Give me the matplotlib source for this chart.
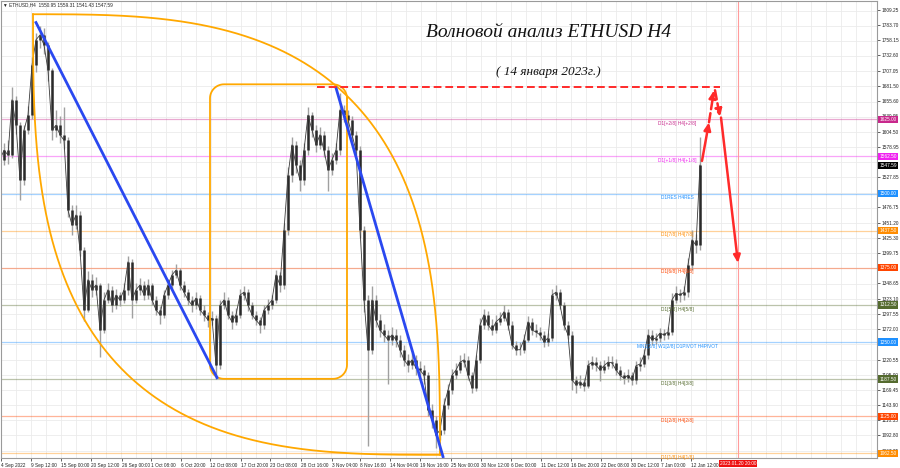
import numpy as np
import matplotlib
matplotlib.use('Agg')
import matplotlib.pyplot as plt
from matplotlib.transforms import blended_transform_factory

# ETHUSD H4, sampled every 4 bars (time index ~ chart position)
bar = list(range(0, 701, 4))
closes = [1557, 1573, 1565, 1658, 1616, 1523, 1607, 1632, 1716, 1759, 1767, 1750, 1708, 1607, 1615, 1599,
          1590, 1472, 1447, 1464, 1405, 1304, 1355, 1338, 1346, 1270, 1321, 1338, 1312, 1329, 1321, 1338,
          1385, 1321, 1338, 1346, 1329, 1346, 1321, 1304, 1296, 1329, 1346, 1363, 1371, 1346, 1334, 1321,
          1312, 1324, 1304, 1296, 1287, 1290, 1211, 1312, 1321, 1296, 1284, 1296, 1329, 1334, 1312, 1296,
          1287, 1279, 1304, 1312, 1321, 1363, 1346, 1439, 1531, 1582, 1548, 1523, 1573, 1632, 1607, 1582,
          1599, 1573, 1540, 1557, 1573, 1641, 1632, 1624, 1599, 1573, 1439, 1321, 1237, 1321, 1287, 1270,
          1262, 1254, 1262, 1254, 1237, 1220, 1211, 1220, 1206, 1203, 1194, 1136, 1119, 1093, 1102, 1144,
          1169, 1194, 1203, 1216, 1220, 1194, 1173, 1220, 1279, 1296, 1279, 1270, 1284, 1290, 1301, 1279,
          1245, 1237, 1237, 1254, 1284, 1270, 1267, 1262, 1250, 1257, 1329, 1334, 1312, 1279, 1262, 1186,
          1178, 1183, 1176, 1211, 1216, 1211, 1203, 1210, 1216, 1215, 1203, 1194, 1189, 1194, 1186, 1210,
          1213, 1228, 1262, 1254, 1257, 1265, 1262, 1267, 1321, 1332, 1329, 1334, 1380, 1422, 1413, 1548]
highs = [1575, 1585, 1590, 1680, 1665, 1620, 1615, 1648, 1730, 1770, 1782, 1778, 1755, 1712, 1640, 1630,
         1645, 1595, 1480, 1480, 1470, 1410, 1370, 1365, 1360, 1350, 1335, 1350, 1345, 1340, 1335, 1350,
         1395, 1390, 1350, 1358, 1352, 1356, 1350, 1328, 1310, 1338, 1356, 1372, 1382, 1375, 1352, 1340,
         1328, 1335, 1330, 1312, 1300, 1302, 1295, 1320, 1335, 1326, 1302, 1308, 1340, 1345, 1340, 1318,
         1302, 1292, 1312, 1322, 1330, 1372, 1368, 1450, 1545, 1595, 1588, 1556, 1585, 1645, 1638, 1615,
         1612, 1605, 1580, 1568, 1585, 1670, 1650, 1640, 1630, 1605, 1580, 1445, 1330, 1345, 1330, 1298,
         1280, 1270, 1275, 1272, 1262, 1245, 1230, 1232, 1228, 1218, 1212, 1200, 1145, 1125, 1115, 1155,
         1180, 1205, 1215, 1228, 1232, 1226, 1200, 1228, 1290, 1306, 1302, 1288, 1295, 1300, 1312, 1305,
         1285, 1252, 1250, 1264, 1294, 1290, 1280, 1276, 1268, 1266, 1340, 1346, 1340, 1318, 1285, 1268,
         1192, 1195, 1190, 1220, 1226, 1224, 1218, 1220, 1226, 1226, 1222, 1210, 1200, 1204, 1200, 1218,
         1224, 1238, 1272, 1270, 1266, 1274, 1272, 1276, 1332, 1345, 1340, 1344, 1392, 1438, 1432, 1595]
lows = [1540, 1548, 1550, 1560, 1600, 1490, 1515, 1600, 1625, 1705, 1745, 1735, 1690, 1590, 1595, 1585,
        1575, 1460, 1430, 1440, 1395, 1285, 1300, 1325, 1330, 1225, 1265, 1315, 1300, 1305, 1310, 1315,
        1330, 1290, 1315, 1330, 1320, 1322, 1312, 1295, 1280, 1290, 1322, 1340, 1358, 1338, 1325, 1312,
        1300, 1305, 1295, 1285, 1275, 1278, 1188, 1205, 1305, 1288, 1272, 1278, 1290, 1320, 1302, 1288,
        1278, 1265, 1272, 1298, 1306, 1315, 1335, 1340, 1430, 1520, 1535, 1505, 1515, 1565, 1595, 1570,
        1575, 1562, 1505, 1532, 1550, 1565, 1620, 1610, 1588, 1560, 1425, 1300, 1075, 1230, 1275, 1258,
        1250, 1180, 1245, 1242, 1225, 1210, 1200, 1205, 1195, 1192, 1180, 1125, 1105, 1072, 1085, 1095,
        1138, 1162, 1188, 1198, 1208, 1186, 1165, 1168, 1215, 1272, 1270, 1262, 1265, 1278, 1285, 1270,
        1238, 1228, 1228, 1232, 1250, 1262, 1258, 1254, 1242, 1244, 1252, 1320, 1305, 1270, 1255, 1170,
        1165, 1172, 1168, 1172, 1205, 1202, 1185, 1198, 1205, 1206, 1195, 1186, 1180, 1182, 1178, 1180,
        1202, 1208, 1222, 1245, 1246, 1250, 1254, 1255, 1262, 1315, 1318, 1320, 1325, 1372, 1400, 1405]
header = '\u25bc ETHUSD,H4  1550.95 1559.31 1541.43 1547.59'
last_price = 1547.59

# Murrey levels
levels = [1625.0, 1562.5, 1500.0, 1437.5, 1375.0, 1312.5, 1250.0, 1187.5, 1125.0, 1062.5]
level_names = ['D1[+2/8] H4[+2/8]', 'D1[+1/8] H4[+1/8]', 'D1RES H4RES', 'D1[7/8] H4[7/8]',
               'D1[6/8] H4[6/8]', 'D1[5/8] H4[5/8]', 'MN1[2/8] W1[2/8] D1PIVOT H4PIVOT',
               'D1[3/8] H4[3/8]', 'D1[2/8] H4[2/8]', 'D1[1/8] H4[1/8]']
level_colors = ['#c8288c', '#f020f0', '#1e90ff', '#ff8c00', '#ff4500', '#556b2f',
                '#1e90ff', '#556b2f', '#ff4500', '#ff8c00']

ytick_vals = [1809.25, 1783.70, 1758.15, 1732.60, 1707.05, 1681.50, 1655.60, 1630.05, 1604.50, 1578.95,
              1527.85, 1476.75, 1451.20, 1425.30, 1399.75, 1348.65, 1323.10, 1297.55, 1272.00, 1220.55,
              1195.00, 1169.45, 1143.90, 1118.35, 1092.80, 1067.25]
xtick_pos = [1, 31, 61, 91, 122, 151, 181, 210, 241, 270, 301, 332, 360, 390, 420,
             451, 481, 511, 541, 571, 601, 631, 661, 691]
xtick_lab = ['4 Sep 2022', '9 Sep 12:00', '15 Sep 00:00', '20 Sep 12:00', '26 Sep 00:00', '1 Oct 08:00',
             '6 Oct 20:00', '12 Oct 08:00', '17 Oct 20:00', '23 Oct 08:00', '28 Oct 16:00', '3 Nov 04:00',
             '8 Nov 16:00', '14 Nov 04:00', '19 Nov 16:00', '25 Nov 00:00', '30 Nov 12:00', '6 Dec 00:00',
             '11 Dec 12:00', '16 Dec 20:00', '22 Dec 08:00', '30 Dec 12:00', '7 Jan 00:00', '12 Jan 12:00']
future_t = 738
future_lab = '2023.01.20 20:00'

# analyst drawings (time index, price)
wave_lines = [(36, 1788, 217, 1190), (336, 1678, 443, 1057)]
target_line = (317, 720, 1679.5)
box = (210, 347, 1188, 1684)
lens = (33, 1802, 440, 1060)
arrows = [((702, 1555), (709, 1620), '-'), ((709, 1620), (714, 1674), '--'),
          ((715, 1674), (720, 1629), '--'), ((721, 1628), (738, 1383), '-')]

small = dict(family='Liberation Sans', fontsize=3.4)

fig = plt.figure(figsize=(9, 4.68), dpi=100)
ax = fig.add_axes([1 / 900, 10 / 468, 876 / 900, 457 / 468])
ax.set_xlim(1, 877)
ax.set_ylim(1054.7, 1824.3)

# grid
for g in np.arange(1067.25, 1820, 25.55):
    ax.axhline(g, color='#ebebeb', lw=0.6, zorder=0)
for g in range(1, 877, 15):
    ax.axvline(g, color='#ebebeb', lw=0.6, zorder=0)

# levels
for lv, name, c in zip(levels, level_names, level_colors):
    ax.axhline(lv, color=c, lw=0.9, alpha=0.4, zorder=1)
    ax.annotate(name, (677, lv), xytext=(0, -1.2), textcoords='offset points',
                ha='center', va='top', color=c, zorder=3, **small)

# price
b = np.array(bar)
ax.vlines(b, lows, highs, color='#a0a0a0', lw=1.0, zorder=2)
ax.vlines(b[1:], closes[:-1], closes[1:], color='#2a2a2a', lw=1.8, zorder=2)
ax.plot(b, closes, color='#3a3a3a', lw=0.6, zorder=2)

# orange shapes
o = '#ffa800'
x0, y0, x1, y1 = lens
t = np.linspace(0, np.pi / 2, 200)
cu, su = np.cos(t) ** (2 / 3), np.sin(t) ** (2 / 3)
ax.plot(x0 + (x1 - x0) * cu, y1 + (y0 - y1) * su, color=o, lw=1.3, zorder=3)
ax.plot(x1 - (x1 - x0) * cu, y0 - (y0 - y1) * su, color=o, lw=1.3, zorder=3)

bx0, bx1, by0, by1 = box
rx, ry = 14, 23.6
a = np.linspace(0, np.pi / 2, 15)
pts = []
for cx, cy, st in [(bx1 - rx, by1 - ry, 0), (bx0 + rx, by1 - ry, np.pi / 2),
                   (bx0 + rx, by0 + ry, np.pi), (bx1 - rx, by0 + ry, 1.5 * np.pi)]:
    pts.append(np.column_stack([cx + rx * np.cos(st + a), cy + ry * np.sin(st + a)]))
pts = np.vstack(pts + [pts[0][:1]])
ax.plot(pts[:, 0], pts[:, 1], color=o, lw=1.3, zorder=3)

for xa, ya, xb, yb in wave_lines:
    ax.plot([xa, xb], [ya, yb], color='#2a48f0', lw=2, zorder=4)

red = '#ff2a2a'
ax.plot([target_line[0], target_line[1]], [target_line[2]] * 2, color=red, lw=1.4, ls=(0, (4, 2)), zorder=4)
for (xa, ya), (xb, yb), ls in arrows:
    ax.annotate('', xy=(xb, yb), xytext=(xa, ya), zorder=5,
                arrowprops=dict(arrowstyle='-|>,head_length=0.45,head_width=0.2', color=red,
                                lw=1.8, linestyle=ls, shrinkA=0, shrinkB=0))

ax.axvline(future_t, color='#ff9c9c', lw=0.8, zorder=1)

# texts
ax.text(3, 1817.5, header, va='center', ha='left', color='#222222', **small)
ax.text(549, 1772, 'Волновой анализ ETHUSD H4', fontsize=14, ha='center', va='center',
        family='Liberation Serif', style='italic', color='#111111')
ax.text(548, 1705, '( 14 января 2023г.)', fontsize=9.5, ha='center', va='center',
        family='Liberation Serif', style='italic', color='#111111')

# axes
ax.yaxis.tick_right()
ax.set_yticks(ytick_vals)
ax.set_yticklabels(['%.2f' % v for v in ytick_vals])
ax.set_xticks(xtick_pos)
ax.set_xticklabels(xtick_lab, ha='left')
ax.tick_params(length=2, pad=1.5, colors='#222222', width=0.5)
for lab in ax.get_xticklabels() + ax.get_yticklabels():
    lab.set_fontfamily('Liberation Sans')
    lab.set_fontsize(3.4)
for s in ax.spines.values():
    s.set_color('#9a9a9a')
    s.set_linewidth(0.8)

tr = blended_transform_factory(ax.transAxes, ax.transData)
for lv, c in zip(levels, level_colors):
    ax.text(1.003, lv, '%.2f' % lv, transform=tr, color='white', va='center', ha='left',
            bbox=dict(boxstyle='square,pad=0.25', fc=c, ec='none'), clip_on=False, **small)
ax.text(1.003, last_price, '%.2f' % last_price, transform=tr, color='white', va='center',
        ha='left', bbox=dict(boxstyle='square,pad=0.25', fc='black', ec='none'), clip_on=False, **small)
trx = blended_transform_factory(ax.transData, ax.transAxes)
ax.text(future_t, -0.007, future_lab, transform=trx, color='white', va='top', ha='center',
        bbox=dict(boxstyle='square,pad=0.25', fc='#ee1111', ec='none'), clip_on=False, **small)

fig.savefig('out.png', dpi=100)
